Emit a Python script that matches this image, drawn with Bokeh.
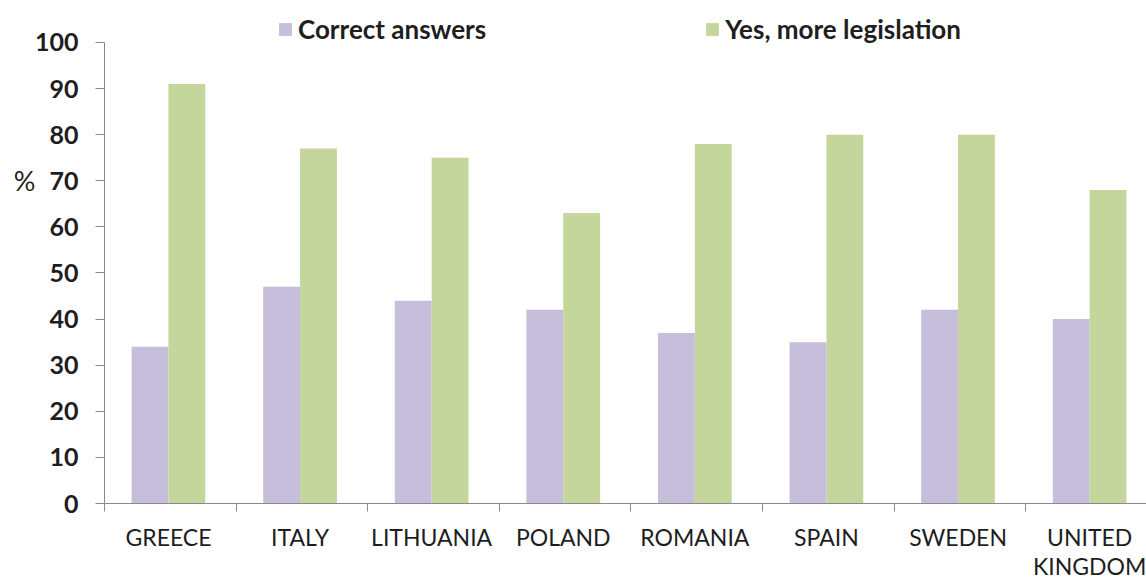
from bokeh.plotting import figure
from bokeh.models import ColumnDataSource, Range1d, FixedTicker, Legend, LegendItem, LinearAxis
from bokeh.transform import dodge
from bokeh.embed import file_html
from bokeh.resources import INLINE

categories = ["GREECE", "ITALY", "LITHUANIA", "POLAND", "ROMANIA", "SPAIN", "SWEDEN", "UNITED\nKINGDOM"]
correct_answers = [34, 47, 44, 42, 37, 35, 42, 40]
more_legislation = [91, 77, 75, 63, 78, 80, 80, 68]
y_ticks = [0, 10, 20, 30, 40, 50, 60, 70, 80, 90, 100]
unit_tick = 70
unit_label = "%"

FONT = "Lato"
TXT = "#1e1e1e"
AX = "#8a8a8a"
centers = [i + 0.486 for i in range(len(categories))]
src = ColumnDataSource(dict(x=centers, correct=correct_answers, more=more_legislation))

p = figure(width=1146, height=583, output_backend="svg", toolbar_location=None,
           x_range=Range1d(0, 7.918), y_range=Range1d(0, 109.1),
           min_border_left=104, min_border_right=0, min_border_top=0, min_border_bottom=80)
p.outline_line_color = None
p.xgrid.grid_line_color = None
p.ygrid.grid_line_color = None

r1 = p.vbar(x=dodge("x", -0.14), top="correct", width=0.28, source=src,
            fill_color="#c6bedb", line_color=None)
r2 = p.vbar(x=dodge("x", 0.14), top="more", width=0.28, source=src,
            fill_color="#c5d69d", line_color=None)

# x axis: labels at centers, tick marks at category boundaries
p.xaxis.ticker = FixedTicker(ticks=centers, minor_ticks=list(range(len(categories) + 1)))
p.xaxis.major_label_overrides = {c: lab for c, lab in zip(centers, categories)}
p.xaxis.major_tick_line_color = None
p.xaxis.major_tick_out = 0
p.xaxis.minor_tick_line_color = AX
p.xaxis.minor_tick_out = 8
p.xaxis.minor_tick_in = 0
p.xaxis.axis_line_color = AX
p.xaxis.major_label_text_font = FONT
p.xaxis.major_label_text_font_size = "23px"
p.xaxis.major_label_text_line_height = 1.05
p.xaxis.major_label_text_color = TXT
p.xaxis.major_label_standoff = 11

p.yaxis.ticker = FixedTicker(ticks=y_ticks)
p.yaxis.bounds = (0, 100)
p.yaxis.minor_tick_line_color = None
p.yaxis.major_tick_line_color = AX
p.yaxis.major_tick_out = 9
p.yaxis.major_tick_in = 0
p.yaxis.axis_line_color = AX
p.yaxis.major_label_text_font = FONT
p.yaxis.major_label_text_font_size = "25px"
p.yaxis.major_label_text_font_style = "bold"
p.yaxis.major_label_text_color = TXT
p.yaxis.major_label_standoff = 17

# unit "%" beside the 70 tick, as a second left axis without line or tick
unit_axis = LinearAxis(ticker=FixedTicker(ticks=[unit_tick]),
                       major_label_overrides={unit_tick: unit_label},
                       axis_line_color=None, major_tick_line_color=None,
                       minor_tick_line_color=None, major_tick_out=0,
                       major_label_text_font=FONT, major_label_text_font_size="27px",
                       major_label_text_color=TXT, major_label_standoff=-4)
p.add_layout(unit_axis, "left")

legend = Legend(items=[LegendItem(label="Correct answers", renderers=[r1]),
                       LegendItem(label="Yes, more legislation", renderers=[r2])],
                orientation="horizontal", location=(173, 458),
                label_text_font=FONT, label_text_font_size="26px", label_text_font_style="bold",
                label_text_color=TXT, glyph_width=16, glyph_height=16,
                spacing=218, padding=0, margin=0, label_standoff=5,
                border_line_color=None, background_fill_alpha=0)
p.add_layout(legend, "center")

open("out.html", "w").write(file_html(p, INLINE))
